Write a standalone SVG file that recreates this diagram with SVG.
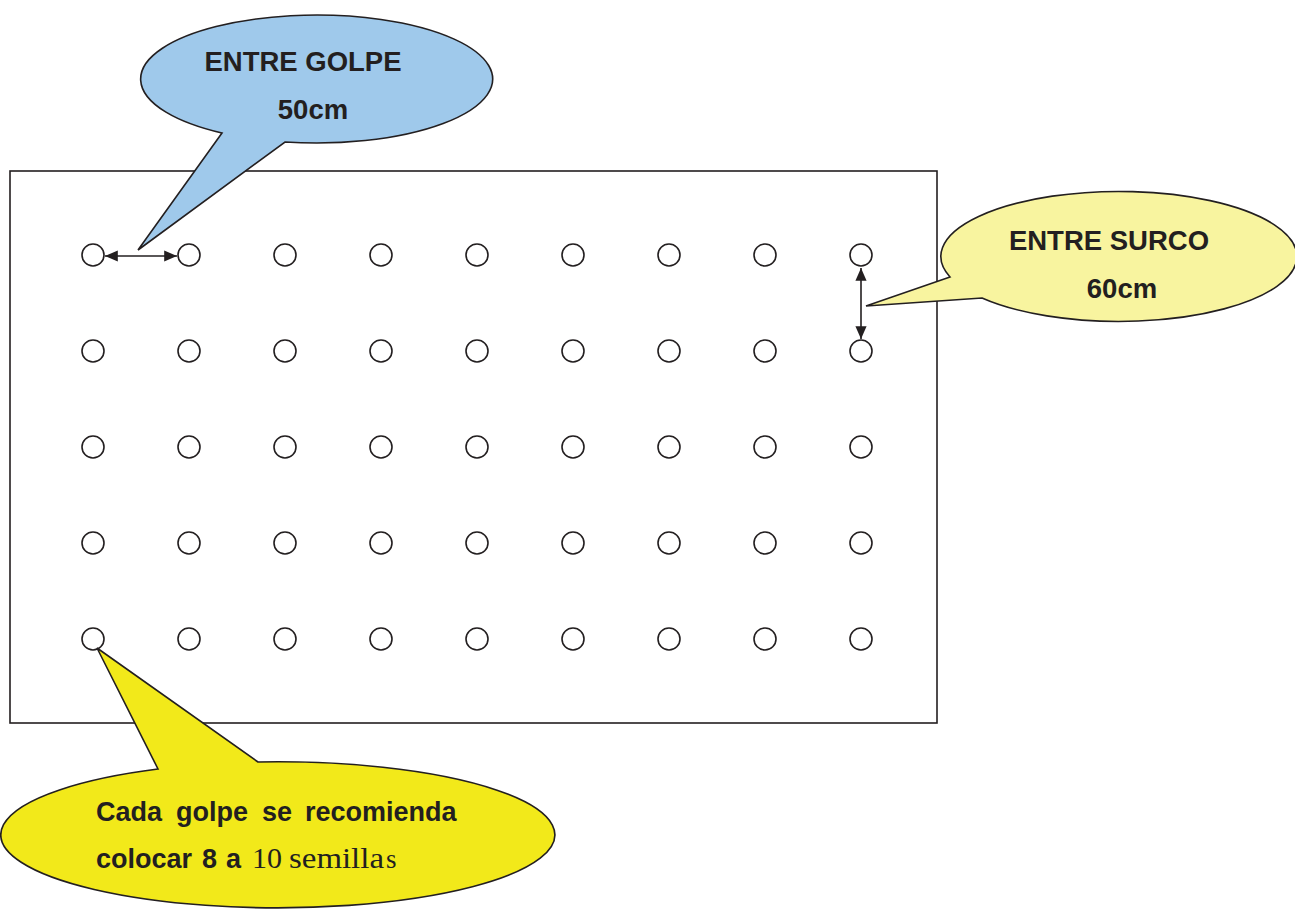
<svg xmlns="http://www.w3.org/2000/svg" width="1295" height="909" viewBox="0 0 1295 909">
<style>
.hole{fill:#fff;stroke:#231f20;stroke-width:1.6}
.bub{stroke:#231f20;stroke-width:1.6;stroke-linejoin:miter}
.t{font-family:"Liberation Sans",Arial,sans-serif;font-weight:bold;fill:#231f20}
.s{font-family:"Liberation Serif","Times New Roman",serif;font-weight:normal;fill:#231f20}
.dim{stroke:#231f20;stroke-width:1.6;fill:none}
</style>
<defs>
<marker id="ah" viewBox="0 0 10 10" refX="10" refY="5" markerWidth="8" markerHeight="7" orient="auto-start-reverse" markerUnits="strokeWidth" preserveAspectRatio="none">
<path d="M0,0 L10,5 L0,10 Z" fill="#231f20"/>
</marker>
</defs>
<rect width="1295" height="909" fill="#fff"/>
<g id="field">
<rect x="10" y="171" width="927" height="552" fill="none" stroke="#231f20" stroke-width="1.6"/>
</g>
<g id="holes">
<g id="row1">
<circle class="hole" cx="93" cy="255" r="11"/><circle class="hole" cx="189" cy="255" r="11"/><circle class="hole" cx="285" cy="255" r="11"/><circle class="hole" cx="381" cy="255" r="11"/><circle class="hole" cx="477" cy="255" r="11"/><circle class="hole" cx="573" cy="255" r="11"/><circle class="hole" cx="669" cy="255" r="11"/><circle class="hole" cx="765" cy="255" r="11"/><circle class="hole" cx="861" cy="255" r="11"/>
</g>
<g id="row2">
<circle class="hole" cx="93" cy="351" r="11"/><circle class="hole" cx="189" cy="351" r="11"/><circle class="hole" cx="285" cy="351" r="11"/><circle class="hole" cx="381" cy="351" r="11"/><circle class="hole" cx="477" cy="351" r="11"/><circle class="hole" cx="573" cy="351" r="11"/><circle class="hole" cx="669" cy="351" r="11"/><circle class="hole" cx="765" cy="351" r="11"/><circle class="hole" cx="861" cy="351" r="11"/>
</g>
<g id="row3">
<circle class="hole" cx="93" cy="447" r="11"/><circle class="hole" cx="189" cy="447" r="11"/><circle class="hole" cx="285" cy="447" r="11"/><circle class="hole" cx="381" cy="447" r="11"/><circle class="hole" cx="477" cy="447" r="11"/><circle class="hole" cx="573" cy="447" r="11"/><circle class="hole" cx="669" cy="447" r="11"/><circle class="hole" cx="765" cy="447" r="11"/><circle class="hole" cx="861" cy="447" r="11"/>
</g>
<g id="row4">
<circle class="hole" cx="93" cy="543" r="11"/><circle class="hole" cx="189" cy="543" r="11"/><circle class="hole" cx="285" cy="543" r="11"/><circle class="hole" cx="381" cy="543" r="11"/><circle class="hole" cx="477" cy="543" r="11"/><circle class="hole" cx="573" cy="543" r="11"/><circle class="hole" cx="669" cy="543" r="11"/><circle class="hole" cx="765" cy="543" r="11"/><circle class="hole" cx="861" cy="543" r="11"/>
</g>
<g id="row5">
<circle class="hole" cx="93" cy="639" r="11"/><circle class="hole" cx="189" cy="639" r="11"/><circle class="hole" cx="285" cy="639" r="11"/><circle class="hole" cx="381" cy="639" r="11"/><circle class="hole" cx="477" cy="639" r="11"/><circle class="hole" cx="573" cy="639" r="11"/><circle class="hole" cx="669" cy="639" r="11"/><circle class="hole" cx="765" cy="639" r="11"/><circle class="hole" cx="861" cy="639" r="11"/>
</g>
</g>
<g id="connectors">
<line class="dim" x1="105" y1="256" x2="177" y2="256" marker-start="url(#ah)" marker-end="url(#ah)"/>
<line class="dim" x1="861" y1="268" x2="861" y2="339" marker-start="url(#ah)" marker-end="url(#ah)"/>
</g>
<g id="callout-golpe">
<path class="bub" fill="#9fc9eb" d="M 222 133 L 138 250 L 285 142 A 176 64 0 1 0 222 133 Z"/>
<text class="t" x="303" y="71" font-size="27.5" text-anchor="middle">ENTRE GOLPE</text>
<text class="t" x="313" y="119" font-size="27.5" text-anchor="middle">50cm</text>
</g>
<g id="callout-surco">
<path class="bub" fill="#f8f49f" d="M 950 277 L 866 306 L 982 298 A 178 65 0 1 0 950 277 Z"/>
<text class="t" x="1109" y="250" font-size="27.5" text-anchor="middle">ENTRE SURCO</text>
<text class="t" x="1122" y="298" font-size="27.5" text-anchor="middle">60cm</text>
</g>
<g id="callout-semillas">
<path class="bub" fill="#f2e91a" d="M 258 762 L 97 648 L 158 769 A 277 73 0 1 0 258 762 Z"/>
<text class="t" y="821" font-size="27"><tspan x="96">Cada</tspan> <tspan x="176">golpe</tspan> <tspan x="262">se</tspan> <tspan x="305">recomienda</tspan></text>
<text class="t" y="868" font-size="27"><tspan x="96">colocar</tspan> <tspan x="202">8</tspan> <tspan x="226">a</tspan> <tspan class="s" x="252" font-size="30">10</tspan> <tspan class="s" x="289" font-size="30" textLength="95" lengthAdjust="spacingAndGlyphs">semilla</tspan><tspan class="s" x="386" font-size="27">s</tspan></text>
</g>
</svg>
